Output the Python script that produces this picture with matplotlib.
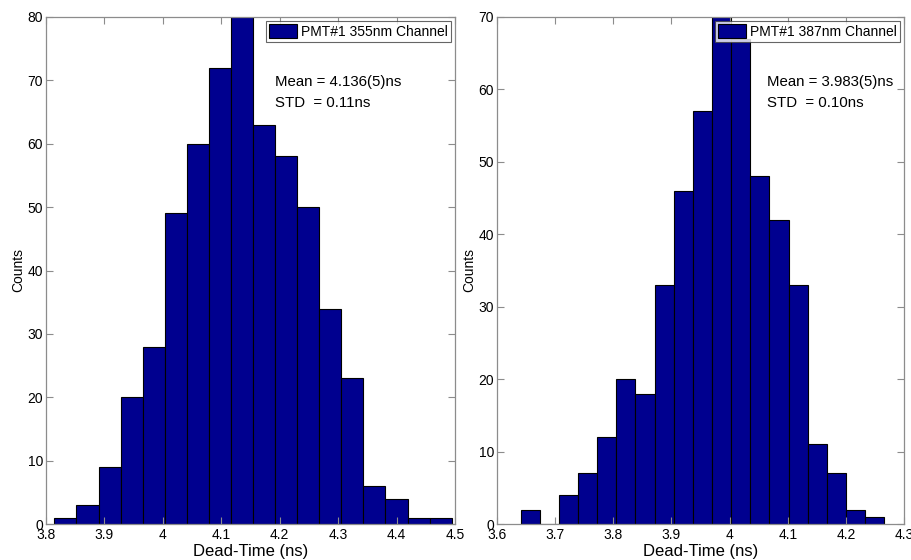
import numpy as np
import matplotlib
matplotlib.use("Agg")
import matplotlib.pyplot as plt

plt.rcParams['font.family'] = ['Liberation Sans', 'DejaVu Sans']

# Left panel: PMT#1 355nm
left_counts = [1, 3, 9, 20, 28, 49, 60, 72, 80, 63, 58, 50, 34, 23, 6, 4, 1, 1]
left_edges_range = (3.8143, 4.4943)
left_xticks = [3.8, 3.9, 4.0, 4.1, 4.2, 4.3, 4.4, 4.5]
left_xticklabels = ["3.8", "3.9", "4", "4.1", "4.2", "4.3", "4.4", "4.5"]
left_yticks = [0, 10, 20, 30, 40, 50, 60, 70, 80]
left_label = "PMT#1 355nm Channel"
left_text = "Mean = 4.136(5)ns\nSTD  = 0.11ns"

# Right panel: PMT#1 387nm
right_counts = [2, 0, 4, 7, 12, 20, 18, 33, 46, 57, 70, 67, 48, 42, 33, 11, 7, 2, 1]
right_edges_range = (3.6406, 4.2661)
right_xticks = [3.6, 3.7, 3.8, 3.9, 4.0, 4.1, 4.2, 4.3]
right_xticklabels = ["3.6", "3.7", "3.8", "3.9", "4", "4.1", "4.2", "4.3"]
right_yticks = [0, 10, 20, 30, 40, 50, 60, 70]
right_label = "PMT#1 387nm Channel"
right_text = "Mean = 3.983(5)ns\nSTD  = 0.10ns"

bar_color = (0, 0, 0.5625)
spine_gray = "#8c8c8c"

fig = plt.figure(figsize=(9.12, 5.6), dpi=100)

def panel(rect, counts, erange, xticks, xtl, yticks, label, text, tx):
    ax = fig.add_axes(rect)
    edges = np.linspace(erange[0], erange[1], len(counts) + 1)
    w = edges[1] - edges[0]
    ax.bar(edges[:-1], counts, width=w, align='edge', color=bar_color,
           edgecolor='black', linewidth=0.8, label=label)
    ax.set_xlim(xticks[0], xticks[-1])
    ax.set_ylim(yticks[0], yticks[-1])
    ax.set_xticks(xticks)
    ax.set_xticklabels(xtl)
    ax.set_yticks(yticks)
    ax.tick_params(direction='in', top=True, right=True, length=5, width=0.8,
                   color=spine_gray, labelsize=10, pad=2)
    ax.tick_params(axis='x', pad=3)
    for s in ax.spines.values():
        s.set_color(spine_gray)
        s.set_linewidth(0.9)
    ax.set_xlabel("Dead-Time (ns)", fontsize=12, labelpad=1)
    ax.set_ylabel("Counts", fontsize=10, labelpad=2)
    leg = ax.legend(loc='upper right', fontsize=10, frameon=True, fancybox=False,
                    borderpad=0.2, handlelength=2.0, handleheight=1.2,
                    handletextpad=0.3, borderaxespad=0.3)
    leg.get_frame().set_edgecolor('#404040')
    leg.get_frame().set_linewidth(0.8)
    ax.text(tx, 0.885, text, transform=ax.transAxes, fontsize=10.8,
            va='top', ha='left', linespacing=1.6)
    return ax

panel([46/912, 36/560, 409/912, 507/560], left_counts, left_edges_range,
      left_xticks, left_xticklabels, left_yticks, left_label, left_text, 0.56)
panel([497/912, 36/560, 407/912, 507/560], right_counts, right_edges_range,
      right_xticks, right_xticklabels, right_yticks, right_label, right_text, 0.663)

fig.savefig("out.png", dpi=100)
